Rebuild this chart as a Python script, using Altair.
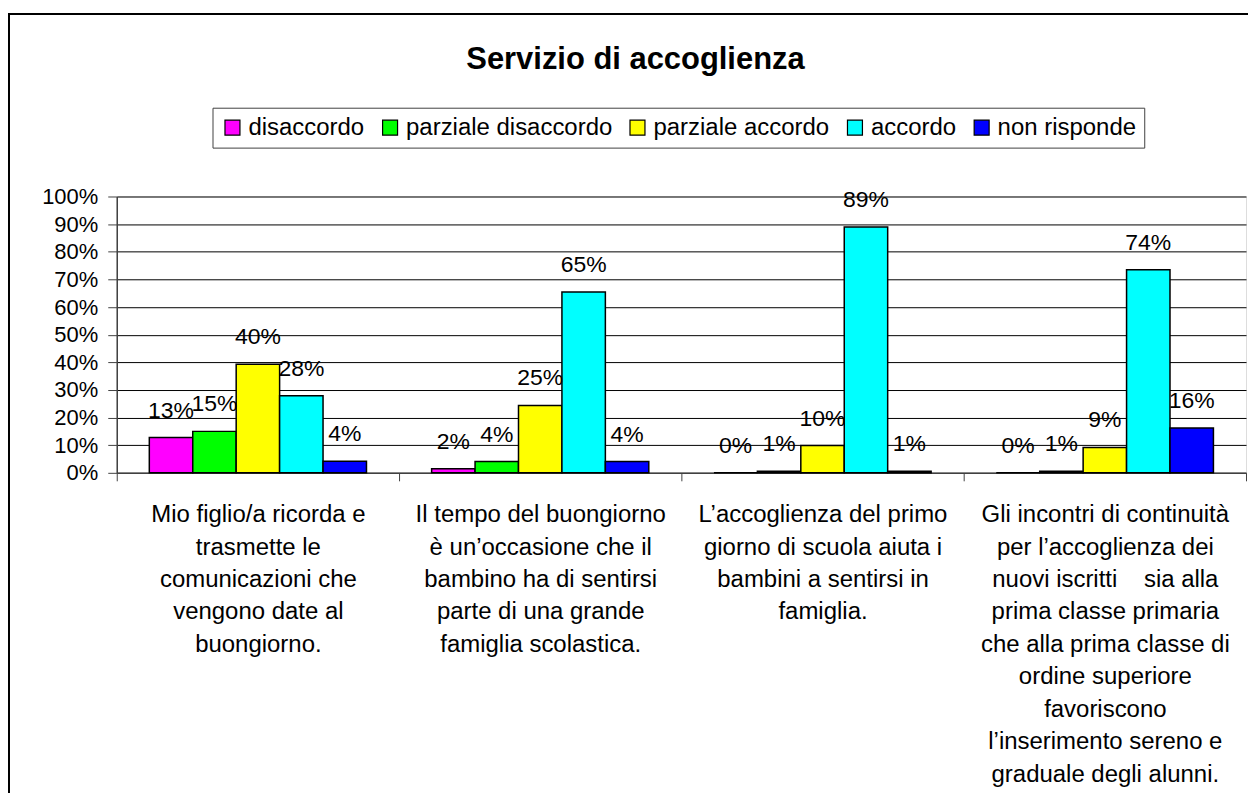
import altair as alt
import pandas as pd

categories = [
    "Mio figlio/a ricorda e|trasmette le|comunicazioni che|vengono date al|buongiorno.",
    "Il tempo del buongiorno|è un’occasione che il|bambino ha di sentirsi|parte di una grande|famiglia scolastica.",
    "L’accoglienza del primo|giorno di scuola aiuta i|bambini a sentirsi in|famiglia.",
    "Gli incontri di continuità|per l’accoglienza dei|nuovi iscritti\u00a0\u00a0\u00a0 sia alla|prima classe primaria|che alla prima classe di|ordine superiore|favoriscono|l’inserimento sereno e|graduale degli alunni.",
]
series = ["disaccordo", "parziale disaccordo", "parziale accordo", "accordo", "non risponde"]
colors = ["#FF00FF", "#00FF00", "#FFFF00", "#00FFFF", "#0000FF"]

disaccordo = [12.8, 1.5, 0.0, 0.0]
parziale_disaccordo = [15.0, 4.1, 0.6, 0.6]
parziale_accordo = [39.3, 24.4, 9.9, 9.2]
accordo = [27.9, 65.4, 89.0, 73.5]
non_risponde = [4.2, 4.1, 0.6, 16.2]

lab_disaccordo = ["13%", "2%", "0%", "0%"]
lab_parziale_disaccordo = ["15%", "4%", "1%", "1%"]
lab_parziale_accordo = ["40%", "25%", "10%", "9%"]
lab_accordo = ["28%", "65%", "89%", "74%"]
lab_non_risponde = ["4%", "4%", "1%", "16%"]

y_ticks = [0, 10, 20, 30, 40, 50, 60, 70, 80, 90, 100]

all_vals = [disaccordo, parziale_disaccordo, parziale_accordo, accordo, non_risponde]
all_labs = [lab_disaccordo, lab_parziale_disaccordo, lab_parziale_accordo, lab_accordo, lab_non_risponde]

rows = []
for s, vals, labs in zip(series, all_vals, all_labs):
    for c, v, l in zip(categories, vals, labs):
        rows.append({"cat": c, "series": s, "value": v, "label": l})
df = pd.DataFrame(rows)

FONT = "Liberation Sans"

x_enc = alt.X(
    "cat:N",
    sort=categories,
    scale=alt.Scale(paddingInner=0, paddingOuter=0),
    axis=alt.Axis(
        title=None,
        labelAngle=0,
        labelExpr="isValid(datum.value) ? split(datum.value, '|') : ''",
        labelFont=FONT,
        labelFontSize=24,
        labelColor="black",
        labelLineHeight=32.5,
        labelBaseline="top",
        labelPadding=22,
        labelLimit=400,
        labelOverlap=False,
        tickBand="extent",
        tickSize=8,
        tickColor="#404040",
        domainColor="#404040",
        domainWidth=1.5,
        grid=False,
    ),
)
xo_enc = alt.XOffset("series:N", sort=series, scale=alt.Scale(paddingOuter=0.75, paddingInner=0))
y_enc = alt.Y(
    "value:Q",
    scale=alt.Scale(domain=[0, 100]),
    axis=alt.Axis(
        title=None,
        values=y_ticks,
        labelExpr="datum.value + '%'",
        labelFont=FONT,
        labelFontSize=22,
        labelColor="black",
        labelPadding=10,
        labelOverlap=False,
        tickSize=9,
        tickColor="#404040",
        domainColor="#404040",
        domainWidth=1.5,
        gridColor="black",
        gridWidth=1,
    ),
)

frame = alt.Chart(alt.Data(values=[{"a": 1}])).mark_rect(
    filled=False, stroke="black", strokeWidth=2
).encode(
    x=alt.value(-108), x2=alt.value(1200), y=alt.value(-183), y2=alt.value(700)
)

bars = alt.Chart(df).mark_bar(stroke="black", strokeWidth=1.5).encode(
    x=x_enc,
    xOffset=xo_enc,
    y=y_enc,
    color=alt.Color(
        "series:N",
        sort=series,
        scale=alt.Scale(domain=series, range=colors),
        legend=alt.Legend(
            orient="none",
            legendX=96,
            legendY=-89,
            direction="horizontal",
            title=None,
            symbolType="square",
            symbolSize=225,
            symbolStrokeColor="black",
            symbolStrokeWidth=1.2,
            labelFont=FONT,
            labelFontSize=24,
            labelColor="black",
            labelLimit=500,
            labelOffset=4,
            columnPadding=13,
            fillColor="white",
            strokeColor="#404040",
            padding=8,
        ),
    ),
)

texts = alt.Chart(df).mark_text(
    dy=-20, baseline="alphabetic", font=FONT, fontSize=23, color="black"
).encode(
    x=x_enc,
    xOffset=xo_enc,
    y=y_enc,
    text="label:N",
)

chart = alt.layer(frame, bars, texts).properties(
    width=1132,
    height=277,
    padding={"left": 109, "top": 188, "right": 2, "bottom": 320},
    autosize="none",
    title=alt.TitleParams(
        "Servizio di accoglienza",
        font=FONT,
        fontSize=31,
        fontWeight="bold",
        color="black",
        anchor="middle",
        frame="group",
        dx=-46,
        dy=87,
        baseline="alphabetic",
        offset=0,
    ),
).configure_view(
    stroke="#808080", strokeWidth=2, fill="#FFFFCC"
).configure(background="white")

chart.save("out.html", embed_options={"renderer": "svg", "actions": False})
